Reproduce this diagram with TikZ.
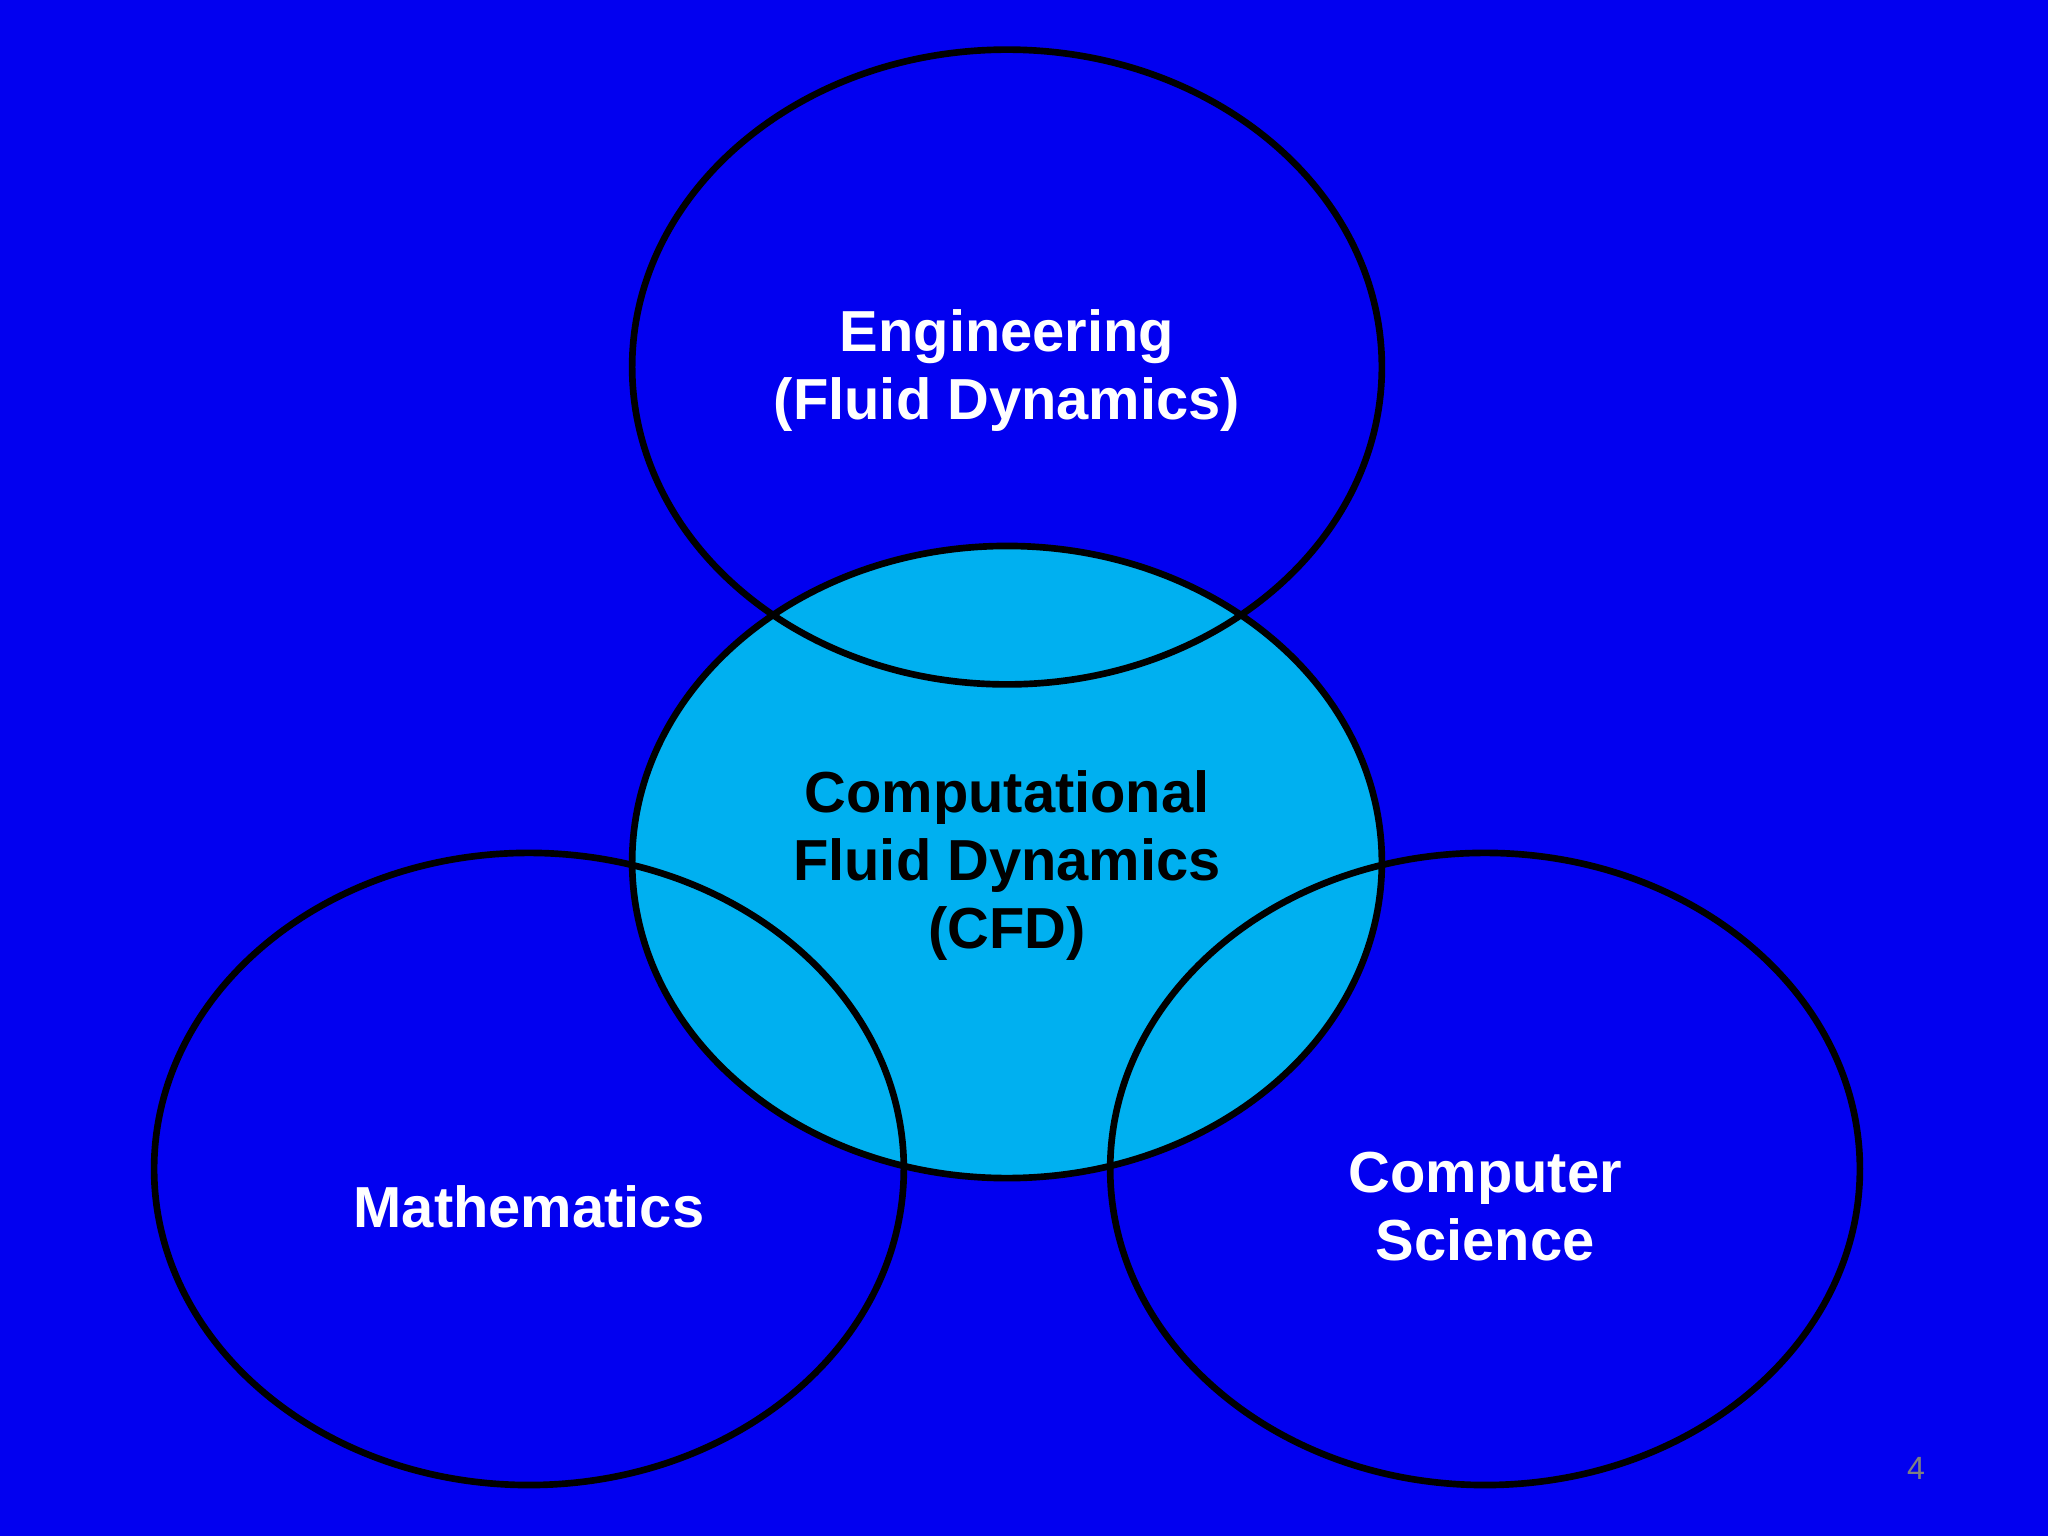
\documentclass[tikz,border=0pt]{standalone}
\usepackage{fontspec}
\setmainfont{Liberation Sans}
\definecolor{bg}{RGB}{2,0,240}
\definecolor{cfd}{RGB}{0,176,240}
\begin{document}
\begin{tikzpicture}[x=0.01cm,y=-0.01cm,
  ring/.style={draw=black,line width=1.45pt},
  lbl/.style={font=\bfseries\fontsize{12.6pt}{14.8pt}\selectfont,align=center}]
\fill[bg] (0,0) rectangle (1568,1176);
\useasboundingbox (0,0) rectangle (1568,1176);
\fill[cfd] (771,660) ellipse [x radius=287, y radius=242];
\draw[ring] (771,281) ellipse [x radius=287, y radius=243];
\draw[ring] (771,660) ellipse [x radius=287, y radius=242];
\draw[ring] (405,895) ellipse [x radius=287, y radius=242];
\draw[ring] (1137,895) ellipse [x radius=287, y radius=242];
\node[lbl,text=white] (eng) at (771,284) {Engineering\\(Fluid Dynamics)};
\node[lbl,text=black] (cfdl) at (771,663) {Computational\\Fluid Dynamics\\(CFD)};
\node[lbl,text=white] (math) at (405,924) {Mathematics};
\node[lbl,text=white] (cs) at (1137,924) {Computer\\Science};
\node[text=gray,font=\fontsize{7pt}{8pt}\selectfont] (pg) at (1467,1124) {4};
\end{tikzpicture}
\end{document}
